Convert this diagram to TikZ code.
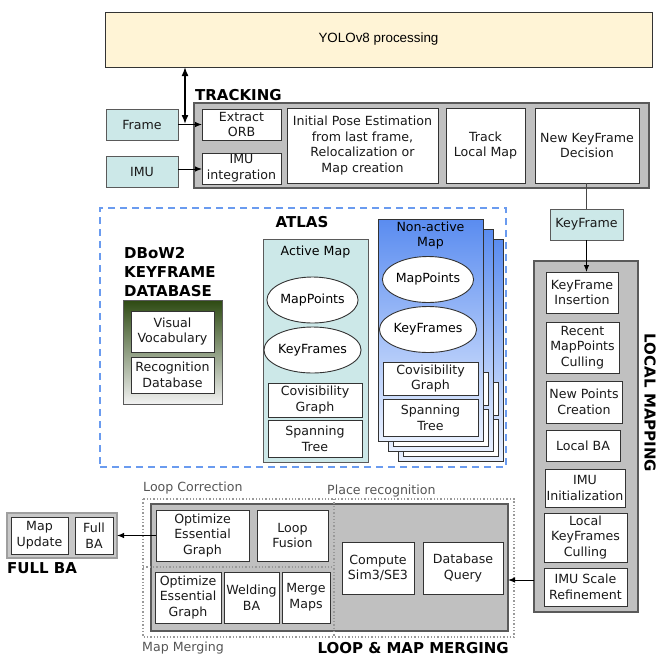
\documentclass[tikz,border=0pt]{standalone}
\usepackage{fontspec}
\setmainfont{DejaVu Sans}
\newfontfamily\yolofont{Liberation Sans}
\usetikzlibrary{arrows.meta,shapes.geometric}
\definecolor{yolofill}{HTML}{FFF4D6}
\definecolor{cyanfill}{HTML}{CCE8E8}
\definecolor{grayfill}{HTML}{C0C0C0}
\definecolor{edge}{HTML}{333333}
\definecolor{grayedge}{HTML}{5A5A5A}
\definecolor{atlasblue}{HTML}{6A9BEF}
\definecolor{nablue}{HTML}{5A8CF0}
\definecolor{nalight}{HTML}{E8F0FF}
\definecolor{dbgreen}{HTML}{2D4A12}
\definecolor{dbwhite}{HTML}{F2F2F2}
\definecolor{labelgray}{HTML}{555555}
\definecolor{fbfill}{HTML}{C8C8C8}
\newcommand{\boxfnt}{\fontsize{12.6}{15.7}\selectfont}
\newcommand{\ttlfnt}{\fontsize{15}{19}\selectfont\bfseries}
\newcommand{\mkbox}[7]{\node[#1, minimum width={(#5-#3)*1pt}, minimum height={(#6-#4)*1pt}] (#2) at ({(#3+#5)/2},{(#4+#6)/2}) {#7};}
\begin{document}
\begin{tikzpicture}[x=1pt,y=-1pt,
  wbox/.style={draw=edge, fill=white, line width=0.9pt, inner sep=0pt, outer sep=0pt, align=center, font=\boxfnt, text=black!90},
  cbox/.style={wbox, fill=cyanfill, draw=grayedge},
  gbox/.style={draw=grayedge, fill=grayfill, line width=1.4pt, inner sep=0pt, outer sep=0pt},
  ybox/.style={draw=edge, fill=yolofill, line width=1pt, inner sep=0pt, outer sep=0pt},
  ell/.style={ellipse, draw=edge, fill=white, line width=0.9pt, inner sep=0pt, minimum width=89pt, minimum height=46pt, font=\boxfnt},
  ttl/.style={font=\ttlfnt, inner sep=0pt, text=black},
  glbl/.style={font=\boxfnt, text=labelgray, inner sep=0pt, anchor=west},
  arr/.style={draw=black, line width=1pt, -{Latex[length=7pt,width=5.5pt]}},
  darr/.style={draw=black, line width=1.6pt, {Latex[length=9pt,width=7pt]}-{Latex[length=9pt,width=7pt]}},
  plain/.style={draw=grayedge!80!black, line width=1.2pt},
  dotline/.style={draw=gray!80, line width=1.3pt, dotted},
  atlasbox/.style={draw=atlasblue, line width=2pt, dash pattern=on 7pt off 5pt, inner sep=0pt, outer sep=0pt},
  nabox/.style={draw=edge, line width=0.9pt, top color=nablue, bottom color=nalight, inner sep=0pt, outer sep=0pt},
  dbbox/.style={draw=grayedge, line width=1pt, top color=dbgreen, bottom color=dbwhite, inner sep=0pt, outer sep=0pt},
  fbbox/.style={draw=gray!75, fill=fbfill, line width=1.6pt, inner sep=0pt, outer sep=0pt}
]
\useasboundingbox (0,0) rectangle (667,657);

% YOLO
\mkbox{ybox}{yolo}{105}{12}{652}{67}{\yolofont\fontsize{13.4}{16}\selectfont YOLOv8 processing}

% TRACKING
\mkbox{gbox}{track}{194}{103}{649}{188}{}
\node[ttl, anchor=west] (trklbl) at (195,95) {TRACKING};
\mkbox{wbox}{extract}{202}{109}{281}{140}{Extract\\ORB}
\mkbox{wbox}{imuint}{202}{153}{281}{184}{IMU\\integration}
\mkbox{wbox}{pose}{287}{108}{438}{183}{Initial Pose Estimation\\from last frame,\\Relocalization or\\Map creation}
\mkbox{wbox}{tlm}{446}{108}{525}{183}{Track\\Local Map}
\mkbox{wbox}{nkd}{535}{108}{639}{183}{New KeyFrame\\Decision}
\mkbox{cbox}{frame}{106}{109}{178}{140}{Frame}
\mkbox{cbox}{imu}{106}{156}{178}{187}{IMU}

\draw[arr] (frame.east) -- (extract.west);
\coordinate (imuy) at (178,169);
\draw[arr] (imuy) -- (imuy -| imuint.west);
\coordinate (fj) at (185,124);
\draw[darr] (yolo.south -| fj) -- (fj);

% KeyFrame
\mkbox{cbox}{kf}{550}{209}{623}{240}{KeyFrame}
\draw[plain] (kf.north |- nkd.south) -- (kf.north);

% ATLAS
\mkbox{atlasbox}{atlas}{100}{208}{506}{467}{}
\node[ttl] (atlaslbl) at (302,222) {ATLAS};

% DBoW2
\node[ttl, anchor=west, align=left] (dblbl) at (124,272) {DBoW2\\KEYFRAME\\DATABASE};
\mkbox{dbbox}{dbow}{123}{300}{222}{404}{}
\mkbox{wbox}{vv}{131}{311}{214}{352}{Visual\\Vocabulary}
\mkbox{wbox}{rd}{131}{357}{214}{393}{Recognition\\Database}

% Active map
\mkbox{cbox}{am}{263}{239}{368}{462}{}
\node[font=\boxfnt, inner sep=0pt] (amlbl) at (315.5,252) {Active Map};
\node[ell] (amp) at (312.5,300) {MapPoints};
\node[ell] (akf) at (312.5,350) {KeyFrames};
\mkbox{wbox}{amcov}{268}{383}{362}{417}{Covisibility\\Graph}
\mkbox{wbox}{amspan}{268}{420}{362}{457}{Spanning\\Tree}

% Non-active maps (stack)
\foreach \d in {20,10}{
  \draw[nabox] ({378+\d},{219+\d}) rectangle ({483+\d},{441+\d});
  \draw[draw=edge, fill=white, line width=0.9pt] ({383+\d},{362+\d}) rectangle ({478+\d},{395+\d});
  \draw[draw=edge, fill=white, line width=0.9pt] ({383+\d},{399+\d}) rectangle ({478+\d},{436+\d});
}
\mkbox{nabox}{na}{378}{219}{483}{441}{}
\node[font=\boxfnt, inner sep=0pt, align=center] (nalbl) at (430.5,235.5) {Non-active\\Map};
\node[ell] (nmp) at (428,279.5) {MapPoints};
\node[ell] (nkf) at (428,329.5) {KeyFrames};
\mkbox{wbox}{nacov}{383}{362}{478}{395}{Covisibility\\Graph}
\mkbox{wbox}{naspan}{383}{399}{478}{436}{Spanning\\Tree}

% LOCAL MAPPING
\mkbox{gbox}{lm}{534}{261}{638}{612}{}
\node[ttl, rotate=-90] (lmlbl) at (650,403) {LOCAL MAPPING};
\mkbox{wbox}{kfins}{546}{272}{618}{313}{KeyFrame\\Insertion}
\mkbox{wbox}{rmc}{546}{322}{619}{373}{Recent\\MapPoints\\Culling}
\mkbox{wbox}{npc}{546}{381}{622}{423}{New Points\\Creation}
\mkbox{wbox}{lba}{546}{430}{620}{461}{Local BA}
\mkbox{wbox}{imuinit}{545}{469}{625}{507}{IMU\\Initialization}
\mkbox{wbox}{lkfc}{544}{513}{627}{562}{Local\\KeyFrames\\Culling}
\mkbox{wbox}{imusr}{544}{568}{627}{606}{IMU Scale\\Refinement}
\draw[arr] (kf.south) -- (kf.south |- kfins.north);

% LOOP & MAP MERGING
\mkbox{gbox}{loop}{151}{504}{508}{631}{}
\mkbox{wbox}{opt1}{156}{510}{249}{561}{Optimize\\Essential\\Graph}
\mkbox{wbox}{lf}{257}{510}{328}{561}{Loop\\Fusion}
\mkbox{wbox}{opt2}{155}{572}{221}{623}{Optimize\\Essential\\Graph}
\mkbox{wbox}{weld}{224}{572}{279}{623}{Welding\\BA}
\mkbox{wbox}{mm}{282}{572}{330}{623}{Merge\\Maps}
\mkbox{wbox}{sim}{342}{542}{414}{594}{Compute\\Sim3/SE3}
\mkbox{wbox}{dbq}{423}{542}{503}{594}{Database\\Query}
\draw[dotline] (143,499) rectangle (514,637);
\draw[dotline] (334,499) -- (334,637);
\draw[dotline] (143,567) -- (334,567);
\node[glbl] (lclbl) at (143,488) {Loop Correction};
\node[glbl] (prlbl) at (327,491) {Place recognition};
\node[glbl] (mmlbl) at (142,648) {Map Merging};
\node[ttl, anchor=east] (lmmlbl) at (509,648) {LOOP \& MAP MERGING};
\coordinate (lmin) at (534,580);
\draw[arr] (lmin) -- (lmin -| loop.east);

% FULL BA
\mkbox{fbbox}{fullba}{7}{513}{117}{558}{}
\mkbox{wbox}{mu}{11}{517}{68}{554}{Map\\Update}
\mkbox{wbox}{fba}{75}{517}{113}{554}{Full\\BA}
\node[ttl, anchor=west] (fblbl) at (7,568) {FULL BA};
\draw[arr] (opt1.west) -- (opt1.west -| fullba.east);
\end{tikzpicture}
\end{document}
